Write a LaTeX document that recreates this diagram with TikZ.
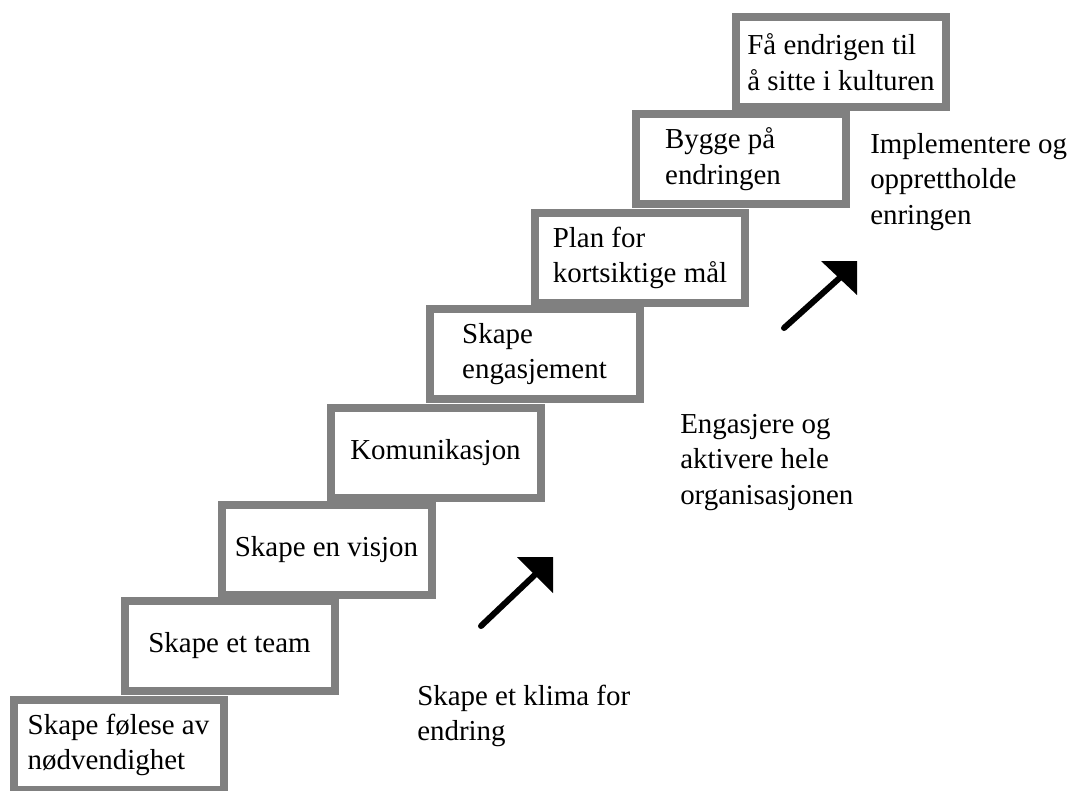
\documentclass[tikz,border=0pt]{standalone}
\usepackage{fontspec}
\setmainfont{Liberation Serif}
\definecolor{boxgray}{RGB}{128,128,128}
\begin{document}
\begin{tikzpicture}[x=0.75pt,y=-0.75pt,
  txt/.style={font=\fontsize{21.7}{26.6}\selectfont},
  stepbox/.style={txt,draw=boxgray, line width=6pt, minimum width=157.5pt,
    minimum height=67.5pt, inner sep=0pt, align=left},
  freetext/.style={txt,anchor=north west, inner sep=0pt, align=left},
  arrowshaft/.style={line width=4.5pt, line cap=round},
  arrowhead/.style={fill=black},
]
\useasboundingbox (0,0) rectangle (1071,790);

% staircase
\node[stepbox] (s1) at (118.5,745) {\raisebox{-4pt}{Skape følese av}\\\raisebox{-4pt}{nødvendighet}};
\node[stepbox] (s2) at (229.5,646) {Skape et team};
\node[stepbox] (s3) at (326.5,550) {Skape en visjon};
\node[stepbox] (s4) at (435.5,453) {Komunikasjon};
\node[stepbox] (s5) at (534.5,354) {Skape\\engasjement};
\node[stepbox] (s6) at (640,258) {Plan for\\kortsiktige mål};
\node[stepbox] (s7) at (741,159) {Bygge på\\endringen\hspace*{27pt}};
\node[stepbox] (s8) at (841,62) {Få endrigen til\\å sitte i kulturen};

% side labels
\node[freetext] (t1) at (417,680) {\strut Skape et klima for\\endring};
\node[freetext] (t2) at (680,408) {\strut Engasjere og\\aktivere hele\\organisasjonen};
\node[freetext] (t3) at (870,128) {\strut Implementere og\\opprettholde\\enringen};

% arrows
\coordinate (a1tail) at (481,626);
\coordinate (a1tip) at (553,557);
\coordinate (a1end) at (540,570);
\draw[arrowshaft] (a1tail) -- (a1end);
\fill[arrowhead] (a1tip) -- ++(-36,0) -- ++(36,36) -- cycle;

\coordinate (a2tail) at (784,328);
\coordinate (a2tip) at (857,261);
\coordinate (a2end) at (844,274);
\draw[arrowshaft] (a2tail) -- (a2end);
\fill[arrowhead] (a2tip) -- ++(-36,0) -- ++(36,34) -- cycle;
\end{tikzpicture}
\end{document}
